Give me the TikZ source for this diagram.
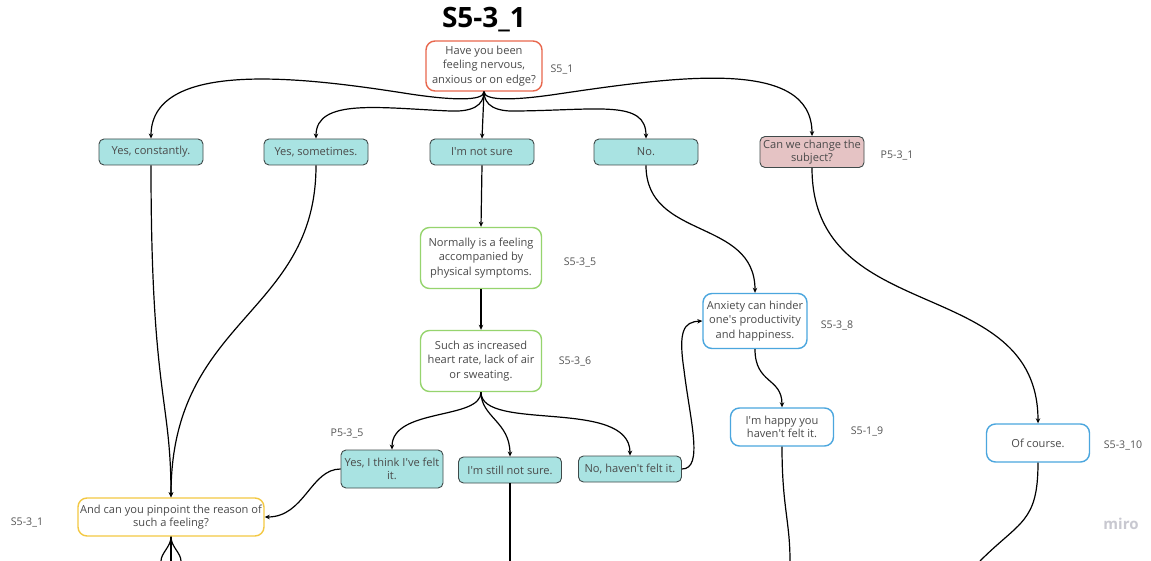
\documentclass[tikz,border=0pt]{standalone}
\usepackage{fontspec}
\setmainfont{Open Sans}
\usetikzlibrary{arrows.meta}

\newcommand{\ap}{\textquotesingle}

\definecolor{txtgray}{HTML}{4A4A4A}
\definecolor{lblgray}{HTML}{555555}
\definecolor{tealfill}{HTML}{A9E3E2}
\definecolor{ansborder}{HTML}{3F4A4A}
\definecolor{pinkfill}{HTML}{E5C3C4}
\definecolor{redline}{HTML}{E8674D}
\definecolor{greenline}{HTML}{96D46E}
\definecolor{blueline}{HTML}{4BA6DE}
\definecolor{yellowline}{HTML}{F3C843}
\definecolor{mirogray}{HTML}{C8C8D0}

\tikzset{
  box/.style={draw, align=center, inner sep=0pt, text=txtgray,
    font=\fontsize{11.1}{14.5}\selectfont, line width=0.9pt},
  answer/.style={box, fill=tealfill, draw=ansborder, rounded corners=5pt,
    minimum width=104pt, minimum height=26pt},
  saybox/.style={box, fill=white, rounded corners=9pt, line width=1.4pt},
  tag/.style={text=lblgray, font=\fontsize{10.6}{12}\selectfont},
  link/.style={line width=1.2pt, black},
  arr/.style={link, -{Stealth[length=5pt,width=4.5pt]}},
}

\begin{document}
\begin{tikzpicture}[x=1pt, y=-1pt]
\useasboundingbox[fill=white] (0,0) rectangle (1151,561);

% title
\node[font=\fontsize{28}{32}\selectfont\bfseries, text=black] (title) at (484,20) {S5-3\_1};

% opening question
\node[saybox, draw=redline, minimum width=116pt, minimum height=50pt] (q) at (484,66)
  {Have you been\\feeling nervous,\\anxious or on edge?};
\node[tag] (tq) at (562,69) {S5\_1};

% first answers
\node[answer] (a1) at (151,152) {Yes, constantly.};
\node[answer] (a2) at (316,152) {Yes, sometimes.};
\node[answer] (a3) at (482,152) {I\ap m not sure};
\node[answer] (a4) at (646,152) {No.};
\node[answer, fill=pinkfill, minimum height=31pt, font=\fontsize{11.1}{13}\selectfont] (a5) at (812,152)
  {Can we change the\\subject?};
\node[tag] (ta5) at (897,155) {P5-3\_1};

% middle branch
\node[saybox, draw=greenline, minimum width=121pt, minimum height=61pt] (n5) at (481,258)
  {Normally is a feeling\\accompanied by\\physical symptoms.};
\node[tag] (tn5) at (580,262) {S5-3\_5};
\node[saybox, draw=greenline, minimum width=121pt, minimum height=61pt] (n6) at (481,361)
  {Such as increased\\heart rate, lack of air\\or sweating.};
\node[tag] (tn6) at (575,361) {S5-3\_6};

% second answers
\node[answer, minimum width=102pt, minimum height=38pt, font=\fontsize{11.1}{13.5}\selectfont] (b1) at (392,469)
  {Yes, I think I\ap ve felt\\it.};
\node[tag] (tb1) at (347,433) {P5-3\_5};
\node[answer, minimum width=103pt] (b2) at (510,470) {I\ap m still not sure.};
\node[answer, minimum width=103pt] (b3) at (630,469) {No, haven\ap t felt it.};

% right branch
\node[saybox, draw=blueline, minimum width=104pt, minimum height=55pt] (n8) at (755,321)
  {Anxiety can hinder\\one\ap s productivity\\and happiness.};
\node[tag] (tn8) at (837,325) {S5-3\_8};
\node[saybox, draw=blueline, minimum width=103pt, minimum height=38pt, font=\fontsize{11.1}{13.5}\selectfont] (n9) at (782,427)
  {I\ap m happy you\\haven\ap t felt it.};
\node[tag] (tn9) at (867,431) {S5-1\_9};
\node[saybox, draw=blueline, minimum width=103pt, minimum height=38pt] (n10) at (1038,443)
  {Of course.};
\node[tag] (tn10) at (1123,445) {S5-3\_10};

% follow-up question
\node[saybox, draw=yellowline, minimum width=186pt, minimum height=38pt, font=\fontsize{11.1}{13.5}\selectfont] (p) at (171,517)
  {And can you pinpoint the reason of\\such a feeling?};
\node[tag] (tp) at (27,522) {S5-3\_1};

% watermark
\node[text=mirogray, font=\fontsize{15}{17}\selectfont\bfseries] (miro) at (1121,524) {miro};

% free ends at the lower edge
\coordinate (e1) at (161,561);
\coordinate (e2) at (171,561);
\coordinate (e3) at (181,561);
\coordinate (e4) at (510,561);
\coordinate (e5) at (790,561);
\coordinate (e6) at (980,561);

% question -> first answers
\draw[arr] (q.south) .. controls +(0,10) and (450,100) .. (410,94)
  .. controls (320,80) and (151,55) .. (a1.north);
\draw[arr] (q.south) .. controls +(0,14) and (472,112) .. (450,111)
  .. controls (380,108) and (316,98) .. (a2.north);
\draw[arr] (q.south) -- (a3.north);
\draw[arr] (q.south) .. controls +(0,14) and (496,112) .. (518,111)
  .. controls (600,110) and (646,100) .. (a4.north);
\draw[arr] (q.south) .. controls +(0,10) and (518,100) .. (558,94)
  .. controls (680,76) and (812,58) .. (a5.north);

% first answers -> follow-ups
\draw[arr] (a1.south) .. controls +(0,230) and +(0,-100) .. (p.north);
\draw[arr] (a2.south) .. controls +(0,150) and +(0,-180) .. (p.north);
\draw[arr] (a3.south) -- (n5.north);
\draw[arr] (n5.south) -- (n6.north);
\draw[arr] (a4.south) .. controls +(0,75) and +(0,-75) .. (n8.north);
\draw[arr] (a5.south) .. controls +(0,160) and +(0,-150) .. (n10.north);

% symptoms -> second answers
\draw[arr] (n6.south) .. controls +(0,28) and +(0,-42) .. (b1.north);
\draw[arr] (n6.south) .. controls +(0,25) and +(0,-35) .. (b2.north);
\draw[arr] (n6.south) .. controls +(0,40) and +(0,-58) .. (b3.north);

% second answers onward
\draw[arr] (b1.west) .. controls +(-30,0) and +(40,0) .. (p.east);
\draw[arr] (b3.east) .. controls +(22,0) and (690,420) .. (684,370)
  .. controls (678,330) and (684,322) .. (n8.west);
\draw[arr] (n8.south) .. controls +(0,35) and +(0,-30) .. (n9.north);

% lines leaving the lower edge
\draw[link] (p.south) .. controls +(0,10) and +(0,-8) .. (e1);
\draw[link] (p.south) -- (e2);
\draw[link] (p.south) .. controls +(0,10) and +(0,-8) .. (e3);
\draw[link] (b2.south) -- (e4);
\draw[link] (n9.south) .. controls +(0,60) and +(0,-40) .. (e5);
\draw[link] (n10.south) .. controls +(0,60) and +(40,-40) .. (e6);
\end{tikzpicture}
\end{document}
